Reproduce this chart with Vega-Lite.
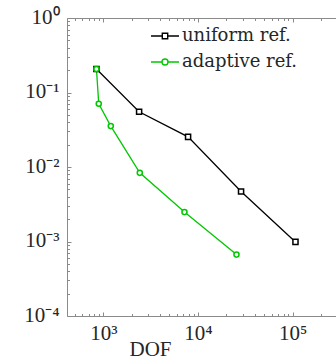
{
  "$schema": "https://vega.github.io/schema/vega-lite/v6.json",
  "autosize": {"type": "none"},
  "padding": {"left": 67, "top": 18, "right": 0, "bottom": 43},
  "width": 269,
  "height": 298,
  "background": "white",
  "config": {
    "view": {"stroke": null},
    "font": "Liberation Serif",
    "axis": {
      "grid": false,
      "domainColor": "#8a8a8a",
      "tickColor": "#8a8a8a",
      "domainWidth": 1,
      "tickWidth": 1,
      "labelFont": "Liberation Serif",
      "labelFontSize": 21,
      "labelColor": "#262626",
      "titleFont": "Liberation Serif",
      "titleFontSize": 21,
      "titleFontWeight": "normal",
      "titleColor": "#262626"
    },
    "legend": {
      "labelFont": "DejaVu Serif",
      "labelFontSize": 18,
      "labelColor": "#262626"
    }
  },
  "data": {
    "values": [
      {"method": "uniform ref.", "dof": 847, "error": 0.2065},
      {"method": "uniform ref.", "dof": 2390, "error": 0.0551},
      {"method": "uniform ref.", "dof": 7860, "error": 0.0254},
      {"method": "uniform ref.", "dof": 28500, "error": 0.00468},
      {"method": "uniform ref.", "dof": 107000, "error": 0.000987},
      {"method": "adaptive ref.", "dof": 847, "error": 0.2065},
      {"method": "adaptive ref.", "dof": 896, "error": 0.0706},
      {"method": "adaptive ref.", "dof": 1200, "error": 0.0354},
      {"method": "adaptive ref.", "dof": 2430, "error": 0.00835},
      {"method": "adaptive ref.", "dof": 7200, "error": 0.00248},
      {"method": "adaptive ref.", "dof": 25500, "error": 0.000667}
    ]
  },
  "resolve": {
    "axis": {"x": "independent", "y": "independent"},
    "scale": {"color": "independent", "shape": "independent"}
  },
  "layer": [
    {
      "mark": {"type": "line", "strokeWidth": 1.3},
      "encoding": {
        "x": {
          "field": "dof", "type": "quantitative",
          "scale": {"type": "log", "domain": [414, 286600], "nice": false},
          "axis": {
            "orient": "bottom", "values": [1000, 10000, 100000],
            "labelExpr": "datum.value == 1000 ? '10³' : datum.value == 10000 ? '10⁴' : '10⁵'",
            "tickSize": -4, "labelPadding": 10, "domain": true,
            "title": "DOF", "titleX": 83, "titleY": 39, "titleAlign": "center",
            "titleBaseline": "alphabetic", "labelFlush": false, "labelOverlap": false
          }
        },
        "y": {
          "field": "error", "type": "quantitative",
          "scale": {"type": "log", "domain": [0.0001, 1], "nice": false},
          "axis": {
            "orient": "left", "values": [0.0001, 0.001, 0.01, 0.1, 1],
            "labelExpr": "datum.value == 1 ? '10⁰' : datum.value == 0.1 ? '10⁻¹' : datum.value == 0.01 ? '10⁻²' : datum.value == 0.001 ? '10⁻³' : '10⁻⁴'",
            "tickSize": -4, "labelPadding": 12, "domain": true, "title": null,
            "labelFlush": false, "labelOverlap": false, "labelOffset": -1
          }
        },
        "color": {
          "field": "method", "type": "nominal",
          "scale": {"domain": ["uniform ref.", "adaptive ref."], "range": ["#000000", "#00c800"]},
          "legend": null
        }
      }
    },
    {
      "mark": {"type": "point", "filled": false, "fill": "white", "strokeWidth": 1.5, "opacity": 1, "size": 26},
      "encoding": {
        "x": {
          "field": "dof", "type": "quantitative",
          "scale": {"type": "log", "domain": [414, 286600], "nice": false},
          "axis": {
            "orient": "bottom",
            "values": [500, 600, 700, 800, 900, 2000, 3000, 4000, 5000, 6000, 7000, 8000, 9000, 20000, 30000, 40000, 50000, 60000, 70000, 80000, 90000, 200000],
            "tickSize": -2.5, "labels": false, "domain": false, "title": null
          }
        },
        "y": {
          "field": "error", "type": "quantitative",
          "scale": {"type": "log", "domain": [0.0001, 1], "nice": false},
          "axis": {
            "orient": "left",
            "values": [0.0002, 0.0003, 0.0004, 0.0005, 0.0006, 0.0007, 0.0008, 0.0009, 0.002, 0.003, 0.004, 0.005, 0.006, 0.007, 0.008, 0.009, 0.02, 0.03, 0.04, 0.05, 0.06, 0.07, 0.08, 0.09, 0.2, 0.3, 0.4, 0.5, 0.6, 0.7, 0.8, 0.9],
            "tickSize": -2.5, "labels": false, "domain": false, "title": null
          }
        },
        "color": {
          "field": "method", "type": "nominal",
          "scale": {"domain": ["uniform ref.", "adaptive ref."], "range": ["#000000", "#00c800"]},
          "legend": null
        },
        "shape": {
          "field": "method", "type": "nominal",
          "scale": {"domain": ["uniform ref.", "adaptive ref."], "range": ["square", "circle"]},
          "legend": null
        }
      }
    },
    {
      "transform": [{"filter": "false"}],
      "mark": {"type": "point", "filled": false, "strokeWidth": 1.4, "opacity": 1},
      "encoding": {
        "x": {
          "field": "dof", "type": "quantitative",
          "scale": {"type": "log", "domain": [414, 286600], "nice": false},
          "axis": {
            "orient": "top", "values": [1000, 10000, 100000],
            "tickSize": -4, "labels": false, "domain": true, "title": null
          }
        },
        "y": {
          "field": "error", "type": "quantitative",
          "scale": {"type": "log", "domain": [0.0001, 1], "nice": false},
          "axis": null
        },
        "color": {
          "field": "method", "type": "nominal",
          "scale": {"domain": ["uniform ref.", "adaptive ref."], "range": ["#000000", "#00c800"]},
          "legend": {
            "orient": "none", "legendX": 87, "legendY": 7, "padding": 0, "title": null,
            "symbolSize": 400, "symbolStrokeWidth": 1.4, "labelOffset": 6, "rowPadding": 6,
            "labelFont": "DejaVu Serif", "labelFontSize": 18, "labelColor": "#262626"
          }
        },
        "shape": {
          "field": "method", "type": "nominal",
          "scale": {
            "domain": ["uniform ref.", "adaptive ref."],
            "range": [
              "M-1.4,0H-0.27M0.27,0H1.4M-0.27,-0.27H0.27V0.27H-0.27Z",
              "M-1.4,0H-0.3M0.3,0H1.4M0.3,0A0.3,0.3 0 1,1 -0.3,0A0.3,0.3 0 1,1 0.3,0Z"
            ]
          },
          "legend": {
            "orient": "none", "legendX": 87, "legendY": 7, "padding": 0, "title": null,
            "symbolSize": 400, "symbolStrokeWidth": 1.4, "labelOffset": 6, "rowPadding": 6,
            "labelFont": "DejaVu Serif", "labelFontSize": 18, "labelColor": "#262626"
          }
        }
      }
    },
    {
      "transform": [{"filter": "false"}],
      "mark": {"type": "point"},
      "encoding": {
        "x": {
          "field": "dof", "type": "quantitative",
          "scale": {"type": "log", "domain": [414, 286600], "nice": false},
          "axis": {
            "orient": "top",
            "values": [500, 600, 700, 800, 900, 2000, 3000, 4000, 5000, 6000, 7000, 8000, 9000, 20000, 30000, 40000, 50000, 60000, 70000, 80000, 90000, 200000],
            "tickSize": -2.5, "labels": false, "domain": false, "title": null
          }
        },
        "y": {
          "field": "error", "type": "quantitative",
          "scale": {"type": "log", "domain": [0.0001, 1], "nice": false},
          "axis": null
        }
      }
    }
  ]
}
